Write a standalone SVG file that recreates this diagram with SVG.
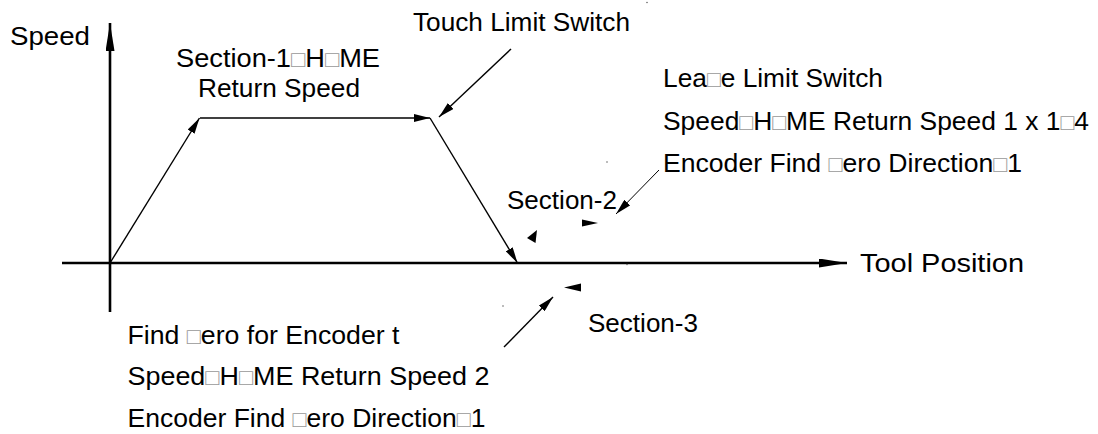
<svg xmlns="http://www.w3.org/2000/svg" width="1098" height="434" viewBox="0 0 1098 434">
<style>
text{font-family:"Liberation Sans",Arial,sans-serif;font-size:26.5px;fill:#000}
.tf{fill:#999;font-size:23px}
.thin{stroke:#000;stroke-width:1.4;fill:none}
.hair{stroke:#000;stroke-width:1;fill:none}
.axis{stroke:#000;stroke-width:2.6;fill:none}
.dot{fill:#666}
</style>
<defs>
<marker id="ah" viewBox="0 0 16 8" refX="16" refY="4" markerWidth="16" markerHeight="8" markerUnits="userSpaceOnUse" orient="auto"><path d="M0,0 L16,4 L0,8 z" fill="#000"/></marker>
<marker id="ax" viewBox="0 0 28 9" refX="28" refY="4.5" markerWidth="28" markerHeight="9" markerUnits="userSpaceOnUse" orient="auto"><path d="M0,0 L28,4.5 L0,9 z" fill="#000"/></marker>
</defs>
<rect width="1098" height="434" fill="#fff"/>
<g id="connectors">
<line class="axis" x1="110" y1="312" x2="110" y2="23" marker-end="url(#ax)"/>
<line class="axis" x1="62" y1="263" x2="847" y2="263" marker-end="url(#ax)"/>
<line class="thin" x1="110" y1="263" x2="199.5" y2="118" marker-end="url(#ah)"/>
<line class="thin" x1="200" y1="118" x2="430" y2="118" marker-end="url(#ah)"/>
<line class="thin" x1="430" y1="118" x2="517.5" y2="263" marker-end="url(#ah)"/>
<line class="thin" x1="511" y1="49" x2="439" y2="117" marker-end="url(#ah)"/>
<line class="hair" x1="659" y1="170" x2="616" y2="214" marker-end="url(#ah)"/>
<line class="thin" x1="504" y1="347" x2="553" y2="297" marker-end="url(#ah)"/>
<polygon points="582,219.5 598,223 582,226.5" fill="#000"/>
<polygon points="527,238 537,230 535.5,243" fill="#000"/>
<polygon points="564,287.5 581,283.5 581,291.5" fill="#000"/>
</g>
<g id="dots">
<circle class="dot" cx="647" cy="2.5" r="0.8"/>
<circle class="dot" cx="607" cy="162" r="0.8"/>
<circle class="dot" cx="627" cy="264.5" r="0.8"/>
<circle class="dot" cx="503" cy="306" r="0.8"/>
</g>
<g id="label-speed"><text x="10" y="45" textLength="80" lengthAdjust="spacingAndGlyphs">Speed</text></g>
<g id="label-section1">
<text x="278" y="66.5" text-anchor="middle" textLength="204" lengthAdjust="spacingAndGlyphs">Section-1<tspan class="tf">□</tspan>H<tspan class="tf">□</tspan>ME</text>
<text x="279" y="96.5" text-anchor="middle" textLength="162" lengthAdjust="spacingAndGlyphs">Return Speed</text>
</g>
<g id="label-touch"><text x="413" y="30.5" textLength="217" lengthAdjust="spacingAndGlyphs">Touch Limit Switch</text></g>
<g id="label-leave">
<text x="663" y="86.5" textLength="220" lengthAdjust="spacingAndGlyphs">Lea<tspan class="tf">□</tspan>e Limit Switch</text>
<text x="663" y="130" textLength="426" lengthAdjust="spacingAndGlyphs">Speed<tspan class="tf">□</tspan>H<tspan class="tf">□</tspan>ME Return Speed 1 x 1<tspan class="tf">□</tspan>4</text>
<text x="663" y="171.5" textLength="359" lengthAdjust="spacingAndGlyphs">Encoder Find <tspan class="tf">□</tspan>ero Direction<tspan class="tf">□</tspan>1</text>
</g>
<g id="label-section2"><text x="507" y="208.5" textLength="110" lengthAdjust="spacingAndGlyphs">Section-2</text></g>
<g id="label-tool"><text x="860" y="271.5" textLength="164" lengthAdjust="spacingAndGlyphs">Tool Position</text></g>
<g id="label-section3"><text x="588" y="331.5" textLength="110" lengthAdjust="spacingAndGlyphs">Section-3</text></g>
<g id="label-find">
<text x="127.5" y="343.5" textLength="272" lengthAdjust="spacingAndGlyphs">Find <tspan class="tf">□</tspan>ero for Encoder t</text>
<text x="127.5" y="385" textLength="362" lengthAdjust="spacingAndGlyphs">Speed<tspan class="tf">□</tspan>H<tspan class="tf">□</tspan>ME Return Speed 2</text>
<text x="127.5" y="426.5" textLength="358" lengthAdjust="spacingAndGlyphs">Encoder Find <tspan class="tf">□</tspan>ero Direction<tspan class="tf">□</tspan>1</text>
</g>
</svg>
